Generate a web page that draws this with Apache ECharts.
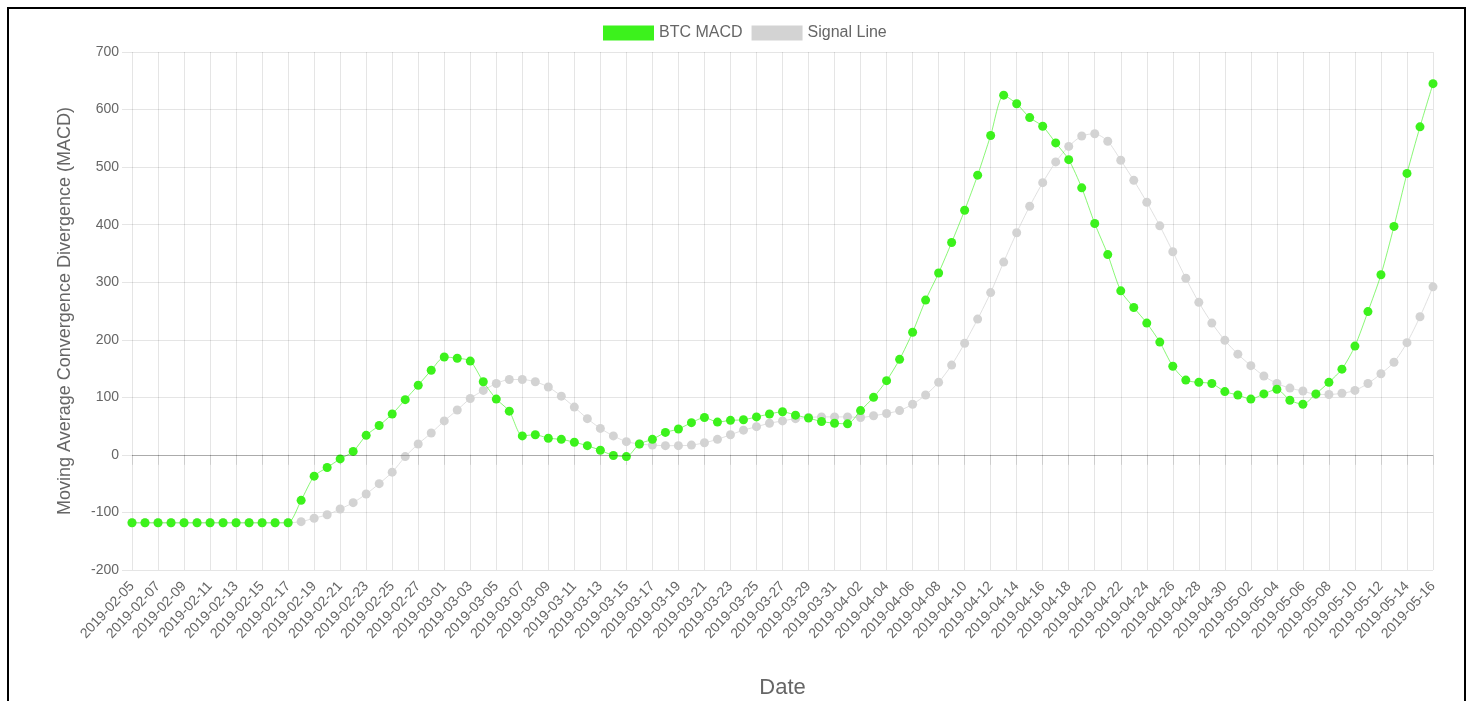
<!DOCTYPE html>
<html>
<head>
<meta charset="utf-8">
<title>BTC MACD</title>
<script src="https://cdn.jsdelivr.net/npm/echarts@6/dist/echarts.min.js"></script>
<style>
    html, body {
        margin: 0;
        padding: 0;
        background: #fff;
    }
    #chart {
        width: 1472px;
        height: 701px;
    }
</style>
</head>
<body>
<div id="chart"></div>
<script>
// daily dates, 2019-02-05 .. 2019-05-16
const dates = [
    "2019-02-05", "2019-02-06", "2019-02-07", "2019-02-08", "2019-02-09", "2019-02-10", "2019-02-11",
    "2019-02-12", "2019-02-13", "2019-02-14", "2019-02-15", "2019-02-16", "2019-02-17", "2019-02-18",
    "2019-02-19", "2019-02-20", "2019-02-21", "2019-02-22", "2019-02-23", "2019-02-24", "2019-02-25",
    "2019-02-26", "2019-02-27", "2019-02-28", "2019-03-01", "2019-03-02", "2019-03-03", "2019-03-04",
    "2019-03-05", "2019-03-06", "2019-03-07", "2019-03-08", "2019-03-09", "2019-03-10", "2019-03-11",
    "2019-03-12", "2019-03-13", "2019-03-14", "2019-03-15", "2019-03-16", "2019-03-17", "2019-03-18",
    "2019-03-19", "2019-03-20", "2019-03-21", "2019-03-22", "2019-03-23", "2019-03-24", "2019-03-25",
    "2019-03-26", "2019-03-27", "2019-03-28", "2019-03-29", "2019-03-30", "2019-03-31", "2019-04-01",
    "2019-04-02", "2019-04-03", "2019-04-04", "2019-04-05", "2019-04-06", "2019-04-07", "2019-04-08",
    "2019-04-09", "2019-04-10", "2019-04-11", "2019-04-12", "2019-04-13", "2019-04-14", "2019-04-15",
    "2019-04-16", "2019-04-17", "2019-04-18", "2019-04-19", "2019-04-20", "2019-04-21", "2019-04-22",
    "2019-04-23", "2019-04-24", "2019-04-25", "2019-04-26", "2019-04-27", "2019-04-28", "2019-04-29",
    "2019-04-30", "2019-05-01", "2019-05-02", "2019-05-03", "2019-05-04", "2019-05-05", "2019-05-06",
    "2019-05-07", "2019-05-08", "2019-05-09", "2019-05-10", "2019-05-11", "2019-05-12", "2019-05-13",
    "2019-05-14", "2019-05-15", "2019-05-16",
];

const btcMacd = [
    -118, -118, -118, -118, -118, -118, -118, -118, -118, -118, -118, -118, -118, -79,
    -37, -22, -7, 6, 34, 51, 71, 96, 121, 147, 170, 168, 163, 127,
    97, 76, 33, 35, 29, 27, 22, 16, 8, -1, -3, 19, 27, 39,
    45, 56, 65, 57, 60, 61, 66, 71, 75, 69, 64, 58, 55, 54,
    77, 100, 129, 166, 213, 269, 316, 369, 425, 486, 555, 625, 610, 586,
    571, 542, 513, 464, 402, 348, 285, 256, 229, 196, 154, 130, 126, 124,
    110, 104, 97, 106, 114, 95, 88, 106, 126, 149, 189, 249, 313, 397,
    489, 570, 645,
];

const signalLine = [
    -118, -118, -118, -118, -118, -118, -118, -118, -118, -118, -118, -118, -118, -116,
    -110, -104, -94, -83, -68, -50, -30, -3, 19, 38, 59, 78, 98, 112,
    124, 131, 131, 127, 118, 102, 83, 63, 46, 33, 23, 19, 17, 16,
    16, 17, 21, 27, 35, 43, 49, 55, 59, 63, 65, 66, 66, 66,
    65, 68, 72, 77, 88, 104, 126, 156, 194, 236, 282, 335, 386, 432,
    473, 509, 536, 554, 558, 545, 512, 477, 439, 398, 353, 307, 265, 229,
    199, 175, 155, 137, 124, 116, 111, 105, 105, 107, 112, 124, 141, 161,
    195, 240, 292,
];

const yTicks = { min: -200, max: 700, step: 100 };

const GREEN = "#3cf21c";
const GREY = "#d3d3d3";
const TEXT = "#666";
const FONT = "'Liberation Sans', Arial, Helvetica, sans-serif";
const GRID_LINE = "rgba(0,0,0,0.1)";

const chart = echarts.init(document.getElementById("chart"));

const option = {
    backgroundColor: "#fff",
    animation: false,
    textStyle: { fontFamily: FONT },
    graphic: [
        {
            type: "rect",
            silent: true,
            shape: { x: 8, y: 8, width: 1457, height: 720 },
            style: { fill: "none", stroke: "#000", lineWidth: 2 },
        },
    ],
    legend: {
        top: 20,
        left: 598,
        icon: "rect",
        itemWidth: 51,
        itemHeight: 15,
        itemGap: 9,
        data: ["BTC MACD", "Signal Line"],
        textStyle: {
            color: TEXT,
            fontSize: 16,
            fontFamily: FONT,
        },
    },
    grid: {
        left: 132,
        right: 39,
        top: 52,
        bottom: 131,
        outerBoundsMode: "none",
    },
    xAxis: {
        type: "category",
        boundaryGap: false,
        data: dates,
        name: "Date",
        nameLocation: "middle",
        nameGap: 107,
        nameTextStyle: {
            color: TEXT,
            fontSize: 22,
            fontFamily: FONT,
        },
        axisLine: { show: false },
        axisTick: {
            show: true,
            interval: 1,
            length: 10,
            lineStyle: { color: GRID_LINE },
        },
        axisLabel: {
            interval: 1,
            rotate: 47,
            margin: 14,
            color: TEXT,
            fontSize: 14,
            fontFamily: FONT,
        },
        splitLine: {
            show: true,
            interval: 1,
            lineStyle: { color: GRID_LINE, width: 1 },
        },
    },
    yAxis: {
        type: "value",
        min: yTicks.min,
        max: yTicks.max,
        interval: yTicks.step,
        name: "Moving Average Convergence Divergence (MACD)",
        nameLocation: "middle",
        nameGap: 58,
        nameTextStyle: {
            color: TEXT,
            fontSize: 18,
            fontFamily: FONT,
        },
        axisLine: { show: false },
        axisTick: {
            show: true,
            length: 10,
            lineStyle: { color: GRID_LINE },
        },
        axisLabel: {
            margin: 13,
            color: TEXT,
            fontSize: 14,
            fontFamily: FONT,
        },
        splitLine: {
            lineStyle: { color: GRID_LINE, width: 1 },
        },
    },
    series: [
        {
            name: "BTC MACD",
            type: "line",
            z: 3,
            data: btcMacd,
            smooth: 0.25,
            showAllSymbol: true,
            symbol: "circle",
            symbolSize: 9,
            lineStyle: { color: GREEN, width: 1, opacity: 0.6 },
            itemStyle: { color: GREEN },
            markLine: {
                silent: true,
                symbol: "none",
                label: { show: false },
                lineStyle: { color: "rgba(0,0,0,0.25)", type: "solid", width: 1 },
                data: [{ yAxis: 0 }],
            },
        },
        {
            name: "Signal Line",
            type: "line",
            z: 2,
            data: signalLine,
            smooth: 0.25,
            showAllSymbol: true,
            symbol: "circle",
            symbolSize: 9,
            lineStyle: { color: GREY, width: 1, opacity: 0.7 },
            itemStyle: { color: GREY },
        },
    ],
};

chart.setOption(option);
</script>
</body>
</html>
